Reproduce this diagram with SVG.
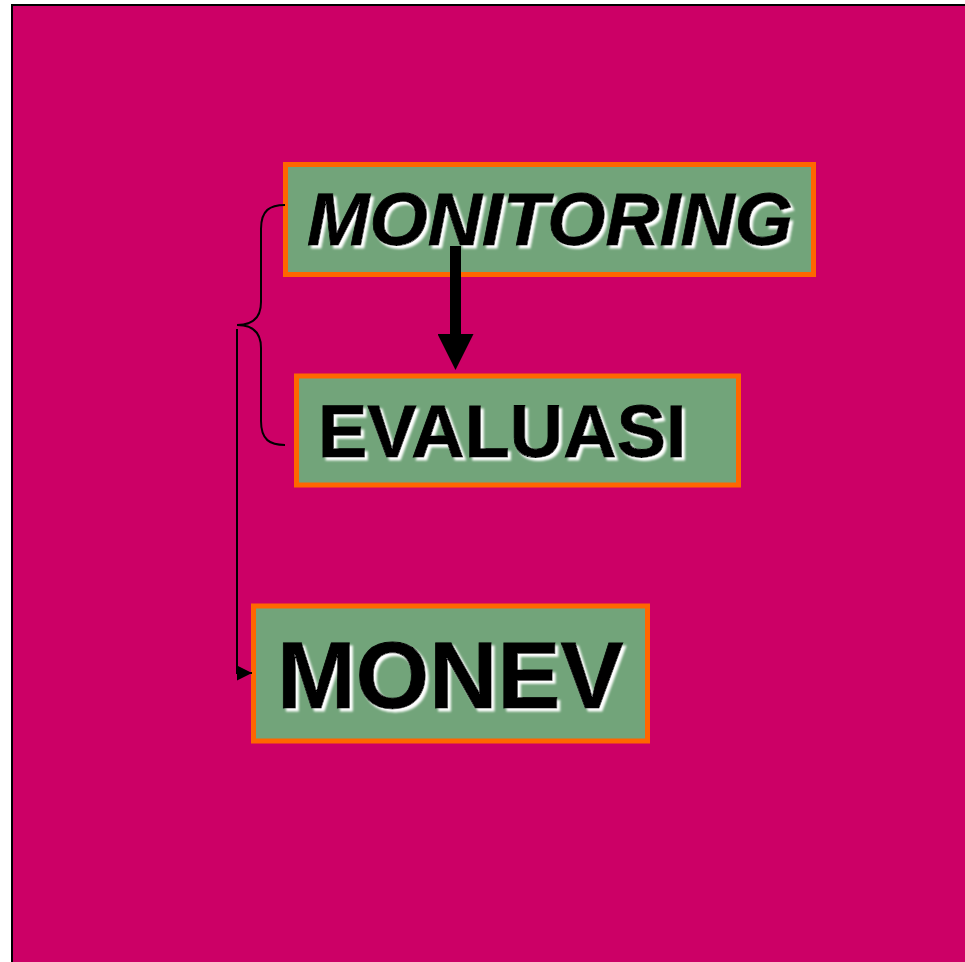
<svg xmlns="http://www.w3.org/2000/svg" width="965" height="962" viewBox="0 0 965 962">
<defs>
<style>
.box{fill:#72A47A;stroke:#FF6600;stroke-width:5}
.lbl{font-family:"Liberation Sans",Arial,sans-serif;font-weight:bold;fill:#000;stroke:#000;stroke-width:0.8;filter:url(#sh)}
.thin{fill:none;stroke:#000;stroke-width:2}
</style>
<filter id="sh" x="-10%" y="-20%" width="120%" height="150%">
<feGaussianBlur in="SourceAlpha" stdDeviation="1.3" result="b"/>
<feOffset in="b" dx="2.5" dy="2.5" result="o"/>
<feFlood flood-color="#ffffff"/>
<feComposite in2="o" operator="in" result="s"/>
<feMerge><feMergeNode in="s"/><feMergeNode in="SourceGraphic"/></feMerge>
</filter>
<marker id="bigHead" markerUnits="userSpaceOnUse" markerWidth="36" markerHeight="36" refX="0" refY="18" orient="auto">
<path d="M0,0 L36,18 L0,36 z" fill="#000"/>
</marker>
<marker id="smallHead" markerUnits="userSpaceOnUse" markerWidth="15" markerHeight="15" refX="15" refY="7.5" orient="auto">
<path d="M0,0 L15,7.5 L0,15 z" fill="#000"/>
</marker>
</defs>
<rect x="0" y="0" width="965" height="962" fill="#ffffff"/>
<rect id="background" x="12" y="5" width="970" height="970" fill="#CC0066" stroke="#000" stroke-width="2"/>
<g id="node-monitoring">
<rect class="box" x="285.5" y="164.5" width="528" height="110"/>
<text class="lbl" x="307" y="245" font-size="75" font-style="italic">MONITORING</text>
</g>
<g id="node-evaluasi">
<rect class="box" x="296.5" y="376" width="442" height="109"/>
<text class="lbl" x="318" y="457" font-size="74">EVALUASI</text>
</g>
<g id="node-monev">
<rect class="box" x="253.5" y="606" width="394" height="135"/>
<text class="lbl" x="277" y="708" font-size="94.5">MONEV</text>
</g>
<g id="connectors">
<line x1="455.5" y1="246" x2="455.5" y2="334" stroke="#000" stroke-width="11" marker-end="url(#bigHead)"/>
<path class="thin" d="M285,205 C270,205 261,210 261,229 L261,302 C261,318 252,325 237,325 C252,325 261,332 261,348 L261,421 C261,440 270,445 285,445"/>
<path class="thin" d="M237,329 V673 H252" marker-end="url(#smallHead)"/>
</g>
</svg>
